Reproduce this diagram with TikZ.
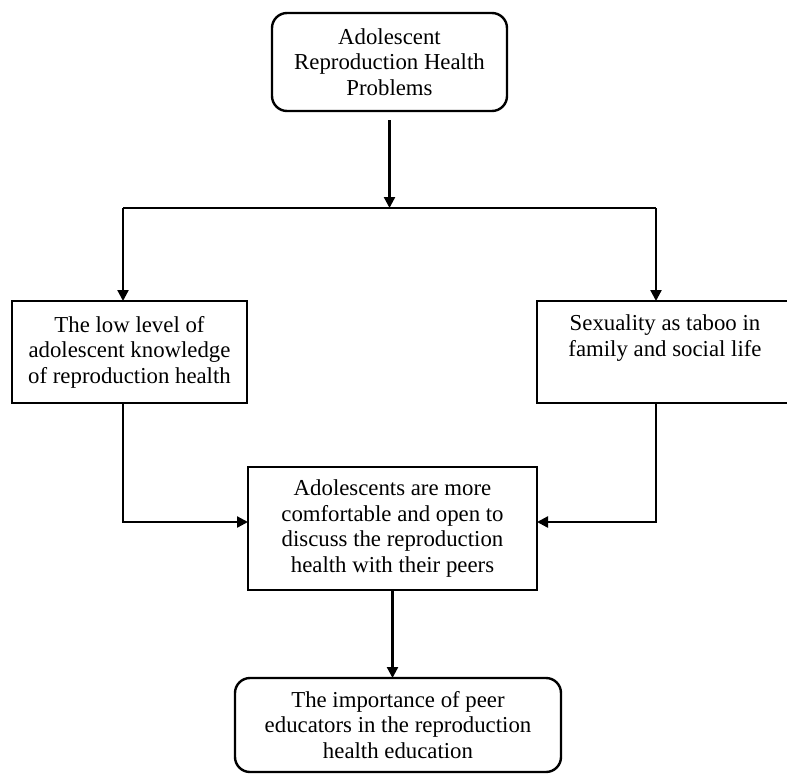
\documentclass[tikz,border=0pt]{standalone}
\usepackage{fontspec}
\setmainfont{Liberation Serif}
\usetikzlibrary{arrows.meta}
\begin{document}
\begin{tikzpicture}[x=1pt,y=-1pt,
  every node/.style={inner sep=0pt, outer sep=0pt},
  boxtxt/.style={font=\fontsize{22.8}{25.5}\selectfont, align=center},
  roundbox/.style={boxtxt, draw, line width=2.4pt, rounded corners=15pt},
  sqbox/.style={boxtxt, draw, line width=2.6pt},
  conn/.style={line width=2.3pt},
  arr/.style={conn, -{Triangle[length=11pt,width=11pt]}}]
\useasboundingbox (0,0) rectangle (787,774);
\node[roundbox, minimum width=235pt, minimum height=98pt] (top) at (389.5,62)
  {Adolescent\\Reproduction Health\\Problems};
\node[sqbox, minimum width=235pt, minimum height=102pt] (left) at (129.5,352)
  {The low level of\\adolescent knowledge\\of reproduction health};
\node[sqbox, minimum width=256pt, minimum height=102pt] (right) at (665,352)
  {Sexuality as taboo in\\family and social life\\\strut};
\node[sqbox, minimum width=289pt, minimum height=123pt] (mid) at (392.5,528.5)
  {Adolescents are more\\comfortable and open to\\discuss the reproduction\\health with their peers};
\node[roundbox, minimum width=326pt, minimum height=94pt] (bot) at (398,725)
  {The importance of peer\\educators in the reproduction\\health education};
\coordinate (split) at (389.5,208);
\coordinate (jl) at (123,208);
\coordinate (jr) at (656,208);
\draw[arr, shorten <=9pt] (top.south) -- (split);
\draw[conn] (jl) -- (jr);
\draw[arr] (jl) -- (jl |- left.north);
\draw[arr] (jr) -- (jr |- right.north);
\draw[arr] (jl |- left.south) |- ([yshift=6.5pt]mid.west);
\draw[arr] (jr |- right.south) |- ([yshift=6.5pt]mid.east);
\draw[arr] (mid.south) -- (mid.south |- bot.north);
\end{tikzpicture}
\end{document}
